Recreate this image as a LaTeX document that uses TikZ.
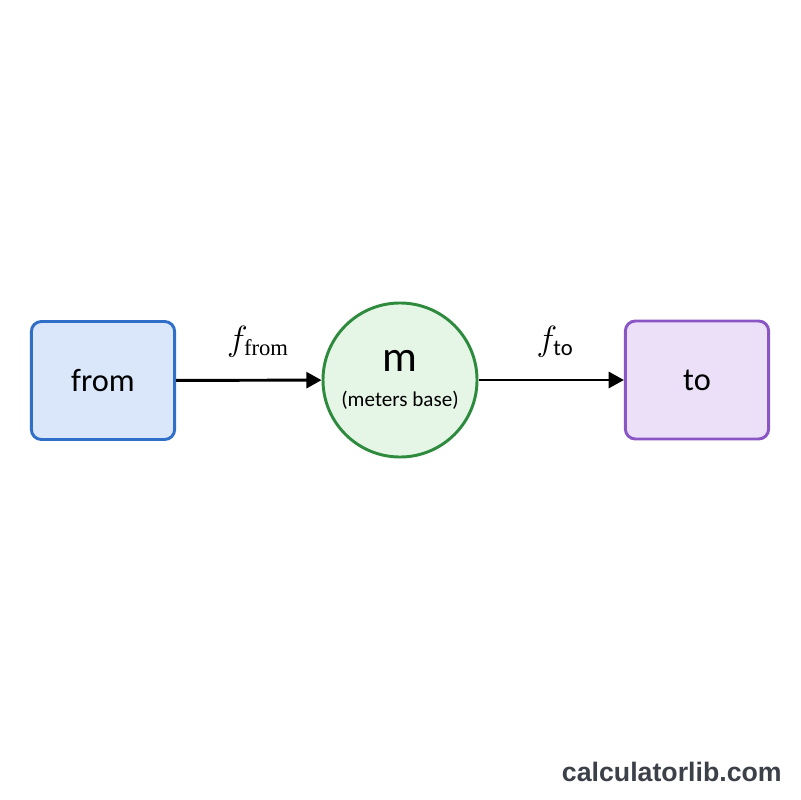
\documentclass[tikz,border=0pt]{standalone}
\usepackage{amsmath}
\usepackage{fontspec}
\setmainfont{Carlito}
\newfontfamily\labelserif{Liberation Serif}
\newfontfamily\markfont{Liberation Sans}
\usepackage{xcolor}
\usetikzlibrary{positioning, arrows.meta}

\definecolor{fromfill}{HTML}{DAE7FB}
\definecolor{fromline}{HTML}{2F6FC8}
\definecolor{basefill}{HTML}{E6F6E6}
\definecolor{baseline}{HTML}{2E8B3E}
\definecolor{tofill}{HTML}{ECE0F8}
\definecolor{toline}{HTML}{8A56C6}
\definecolor{markgray}{HTML}{3C4049}

\begin{document}
\begin{tikzpicture}[
        x=0.025cm, y=-0.025cm,
        >={Triangle[length=0.38cm, width=0.4cm]},
        unitbox/.style={rectangle, rounded corners=0.25cm, line width=2.1pt,
            minimum width=3.58cm, minimum height=2.95cm,
            font=\fontsize{23}{24}\selectfont},
        basenode/.style={circle, draw=baseline, fill=basefill, line width=2.1pt,
            minimum size=3.85cm, align=center,
            font=\fontsize{15}{25}\selectfont},
        conv/.style={->, line width=2.1pt},
        flabel/.style={font=\fontsize{23}{24}\selectfont}
    ]
        \useasboundingbox[fill=white] (0,0) rectangle (800,800);

        \node[unitbox, draw=fromline, fill=fromfill] (from) at (103,380.5) {from};
        \node[basenode] (m) at (400,380)
            {{\fontsize{31}{25}\selectfont m}\\(meters base)};
        \node[unitbox, draw=toline, fill=tofill] (to) at (697,380) {to};

        \draw[conv] (from) -- (m);
        \draw[conv] (m) -- (to);

        \node[flabel] (ffrom) at (258,342) {$f_{\text{\labelserif from}}$};
        \node[flabel] (fto)   at (555,342) {$f_{\text{to}}$};

        \node[anchor=east, inner sep=0pt, text=markgray,
            font=\markfont\bfseries\fontsize{19}{20}\selectfont]
            (mark) at (782,772) {calculatorlib.com};
    \end{tikzpicture}
\end{document}
